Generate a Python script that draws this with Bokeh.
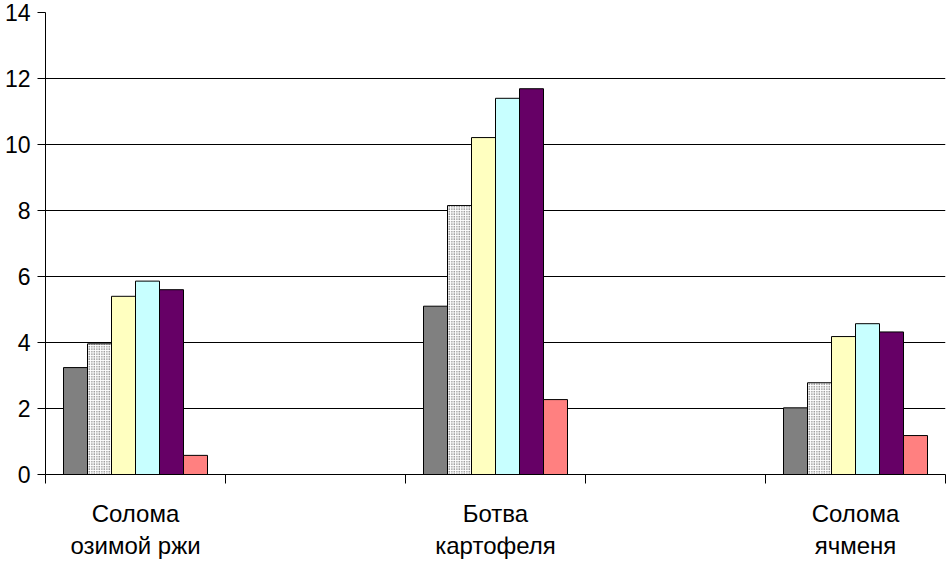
from bokeh.plotting import figure
from bokeh.models import Range1d, FixedTicker, ColumnDataSource
from bokeh.embed import file_html
from bokeh.resources import INLINE

# --- data ---
slots = ["Солома\nозимой ржи", "", "Ботва\nкартофеля", "", "Солома\nячменя"]
categories = ["Солома\nозимой ржи", "Ботва\nкартофеля", "Солома\nячменя"]
series1 = [3.24, 5.10, 2.02]
series2 = [3.96, 8.15, 2.78]
series3 = [5.40, 10.21, 4.18]
series4 = [5.86, 11.40, 4.57]
series5 = [5.60, 11.69, 4.32]
series6 = [0.58, 2.27, 1.18]
y_ticks = [0, 2, 4, 6, 8, 10, 12, 14]

series = [series1, series2, series3, series4, series5, series6]
fills = ["#808080", "#ffffff", "#ffffc0", "#c8ffff", "#660066", "#ff8080"]

p = figure(width=947, height=561, output_backend="svg", toolbar_location=None,
           x_range=Range1d(0, len(slots)), y_range=Range1d(0, 14),
           min_border_left=45, min_border_right=2, min_border_top=12, min_border_bottom=85,
           x_axis_location="below", y_axis_location="left")
p.outline_line_color = None
p.background_fill_color = "white"
p.border_fill_color = "white"

# category centres from their slot index
centres = [slots.index(c) + 0.5 for c in categories]
n = len(series)
slot_frac = 0.8
bw = slot_frac / n
for i, (vals, col) in enumerate(zip(series, fills)):
    off = (i - (n - 1) / 2) * bw
    src = ColumnDataSource(dict(x=[c + off for c in centres], top=vals))
    kw = {}
    if i == 1:
        kw = dict(hatch_pattern="dot", hatch_color="#333333", hatch_scale=2.5, hatch_weight=1.2)
    p.vbar(x="x", top="top", width=bw, bottom=0, source=src,
           fill_color=col, line_color="black", line_width=1, **kw)

# y axis
p.yaxis.ticker = FixedTicker(ticks=y_ticks)
p.yaxis.major_label_text_font = "Liberation Sans"
p.yaxis.major_label_text_font_size = "23px"
p.yaxis.major_label_text_color = "black"
p.yaxis.major_tick_in = 0
p.yaxis.major_tick_out = 8
p.yaxis.minor_tick_out = 0
p.yaxis.minor_tick_in = 0
p.yaxis.major_label_standoff = 7
p.yaxis.axis_line_color = "black"
p.yaxis.major_tick_line_color = "black"

# x axis: labels at slot centres, ticks at slot edges
centre_ticks = [i + 0.5 for i, s in enumerate(slots) if s]
p.xaxis.ticker = FixedTicker(ticks=centre_ticks, minor_ticks=list(range(len(slots) + 1)))
p.xaxis.major_label_overrides = {i + 0.5: s for i, s in enumerate(slots) if s}
p.xaxis.major_tick_out = 0
p.xaxis.major_tick_in = 0
p.xaxis.minor_tick_out = 9
p.xaxis.minor_tick_in = 0
p.xaxis.minor_tick_line_color = "black"
p.xaxis.major_label_text_font = "Liberation Sans"
p.xaxis.major_label_text_font_size = "24px"
p.xaxis.major_label_text_color = "black"
p.xaxis.major_label_standoff = 16
p.xaxis.axis_line_color = "black"

p.xgrid.grid_line_color = None
p.ygrid.ticker = FixedTicker(ticks=y_ticks)
p.ygrid.grid_line_color = "black"
p.ygrid.grid_line_alpha = 1

open("out.html", "w").write(file_html(p, INLINE))
